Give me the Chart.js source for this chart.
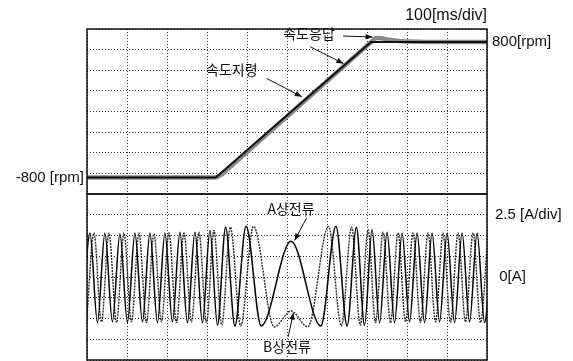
<!DOCTYPE html>
<html><head><meta charset="utf-8">
<script src="https://cdn.jsdelivr.net/npm/chart.js@4"></script>
<style>
html,body{margin:0;padding:0;background:#fff;width:573px;height:361px;overflow:hidden}
#top{position:absolute;left:0;top:0}
#bot{position:absolute;left:0;top:190px}
</style></head><body>
<canvas id="top" width="573" height="196"></canvas>
<canvas id="bot" width="573" height="171"></canvas>
<script>
// ---- time axis (ms), 100 ms/div ----
const timeGrid = [0, 100, 200, 300, 400, 500, 600, 700, 800, 900, 1000];

// ---- speed panel (rpm) ----
const speedMin = -995, speedMax = 953;          // panel edges
const cmdTime = [0, 322, 710, 1000];            // speed command (속도지령)
const cmdRpm  = [-800, -800, 800, 800];
const respTime = [0, 314, 322, 330, 340, 352, 705, 712, 722, 735, 755, 780, 810, 850, 1000]; // speed response (속도응답)
const respRpm  = [-800, -800, -797, -782, -752, -702, 778, 805, 845, 843, 826, 812, 804, 800, 800];
const speedLeftTick = [-800], speedLeftLabel = ['-800 [rpm]'];
const speedRightTick = [800], speedRightLabel = ['800[rpm]'];

// ---- current panel (A), 2.5 A/div ----
const currentGrid = [-10, -7.5, -5, -2.5, 0, 2.5, 5, 7.5, 10];
const iaTime = [-11.4, 7.3, 26.1, 44.8, 63.6, 82.3, 101.1, 119.8, 138.6, 157.3, 176.1, 194.8, 213.6, 232.3, 251.1, 269.8, 288.6, 307.3, 326.1, 346.5, 369.7, 397.6, 435.4, 510, 584.6, 622.4, 650.3, 673.5, 693.9, 712.7, 731.4, 750.2, 768.9, 787.7, 806.4, 825.2, 843.9, 862.7, 881.4, 900.2, 918.9, 937.7, 956.4, 975.2, 993.9, 1012.7];
const iaAmp  = [-5.4, 5.3, -5.5, 5.3, -5.4, 5.2, -5.5, 5.3, -5.4, 5.3, -5.5, 5.3, -5.4, 5.4, -5.5, 5.4, -5.5, 5.6, -5.8, 6.0, -5.9, 6.1, -5.9, 4.3, -5.9, 6.1, -5.9, 6.0, -5.8, 5.7, -5.5, 5.4, -5.5, 5.3, -5.4, 5.3, -5.5, 5.3, -5.4, 5.3, -5.5, 5.3, -5.4, 5.3, -5.5, 5.3];
const ibTime = [-1.3, 17.4, 36.2, 54.9, 73.7, 92.4, 111.2, 129.9, 148.7, 167.4, 186.2, 204.9, 223.7, 242.4, 261.2, 279.9, 298.7, 317.4, 336.8, 358.5, 384.0, 416.1, 468.0, 510, 552.0, 603.9, 636.0, 661.5, 683.2, 702.6, 721.3, 740.1, 758.8, 777.6, 796.3, 815.1, 833.8, 852.6, 871.3, 890.1, 908.8, 927.6, 946.3, 965.1, 983.8, 1002.6];
const ibAmp  = [-5.5, 5.3, -5.4, 5.3, -5.5, 5.3, -5.4, 5.3, -5.5, 5.2, -5.4, 5.3, -5.5, 5.3, -5.4, 5.4, -5.5, 5.6, -5.8, 6.0, -5.9, 6.1, -6.0, -4.1, -6.0, 6.1, -5.9, 6.0, -5.8, 5.7, -5.5, 5.4, -5.5, 5.3, -5.4, 5.3, -5.5, 5.3, -5.4, 5.3, -5.5, 5.3, -5.4, 5.3, -5.5, 5.3];
const currentRightTick = [7.5, 0], currentRightLabel = ['2.5 [A/div]', ' 0[A]'];

// ---- annotations (data units) ----
const speedNotes = [{text: '속도응답', t: 555, v: 894}, {text: '속도지령', t: 362, v: 468}];
const speedArrows = [[640, 870, 714, 858], [558, 744, 641, 545], [449, 370, 537, 153]];
const currentNotes = [{text: 'A상전류', t: 510, v: 8.2}, {text: 'B상전류', t: 500, v: -8.4}];
const currentArrows = [[549, 7.1, 519, 4.4], [503, -7.2, 516, -4.3]];

const numFont = {family: '"Liberation Sans", Arial, sans-serif', size: 15};
const gridColor = '#333', gridDash = [1, 2];
const fixW = w => s => { s.width = w; s.paddingTop = 0; s.paddingBottom = 0; };
const fixH = h => s => { s.height = h; s.paddingLeft = 0; s.paddingRight = 0; };
const pts = (xs, ys) => xs.map((x, i) => ({x, y: ys[i]}));

const framePlugin = {
  id: 'frame',
  afterDatasetsDraw(chart) {
    const {ctx, chartArea: a} = chart;
    ctx.save(); ctx.strokeStyle = '#111'; ctx.lineWidth = 1.5;
    ctx.strokeRect(a.left, a.top, a.right - a.left, a.bottom - a.top);
    ctx.restore();
  }
};
function notesPlugin(notes, arrows, yId) {
  return { id: 'notes', afterDraw(chart) {
    const xs = chart.scales.x, ys = chart.scales[yId], ctx = chart.ctx;
    ctx.save();
    ctx.fillStyle = '#111'; ctx.strokeStyle = '#111'; ctx.lineWidth = 1;
    ctx.font = '14px "Noto Sans CJK KR", sans-serif';
    ctx.textAlign = 'center'; ctx.textBaseline = 'middle';
    notes.forEach(n => ctx.fillText(n.text, xs.getPixelForValue(n.t), ys.getPixelForValue(n.v)));
    arrows.forEach(([t0, v0, t1, v1]) => {
      const x0 = xs.getPixelForValue(t0), y0 = ys.getPixelForValue(v0);
      const x1 = xs.getPixelForValue(t1), y1 = ys.getPixelForValue(v1);
      ctx.beginPath(); ctx.moveTo(x0, y0); ctx.lineTo(x1, y1); ctx.stroke();
      const a = Math.atan2(y1 - y0, x1 - x0), L = 7, W = 2.8;
      ctx.beginPath(); ctx.moveTo(x1, y1);
      ctx.lineTo(x1 - L * Math.cos(a) + W * Math.sin(a), y1 - L * Math.sin(a) - W * Math.cos(a));
      ctx.lineTo(x1 - L * Math.cos(a) - W * Math.sin(a), y1 - L * Math.sin(a) + W * Math.cos(a));
      ctx.closePath(); ctx.fill();
    });
    ctx.restore();
  }};
}
const xGrid = h => ({
  type: 'linear', position: 'bottom', min: timeGrid[0], max: timeGrid[timeGrid.length - 1],
  afterBuildTicks: s => { s.ticks = timeGrid.map(v => ({value: v})); },
  ticks: {display: false}, grid: {color: gridColor, drawTicks: false, lineWidth: 1},
  border: {display: false, dash: gridDash}, afterFit: fixH(h)
});

// ---- top chart: speed ----
const speedGrid = Array.from({length: 9}, (_, i) => speedMin + i * (speedMax - speedMin) / 8);
new Chart(document.getElementById('top'), {
  type: 'line',
  data: { datasets: [
    {label: '속도지령', data: pts(cmdTime, cmdRpm), borderColor: '#111', borderWidth: 2, pointRadius: 0, tension: 0, xAxisID: 'x', yAxisID: 'y'},
    {label: '속도응답', data: pts(respTime, respRpm), borderColor: '#8a8a8a', borderWidth: 4.5, pointRadius: 0, tension: 0.3, xAxisID: 'x', yAxisID: 'y'}
  ]},
  options: {
    responsive: false, animation: false, devicePixelRatio: 1,
    layout: {padding: 0, autoPadding: false},
    plugins: {legend: {display: false}, tooltip: {enabled: false}},
    scales: {
      x: xGrid(2),
      xTop: { type: 'linear', position: 'top', min: 0, max: 1000,
        ticks: {display: false}, grid: {display: false, drawTicks: false}, border: {display: false},
        title: {display: true, text: '100[ms/div]', align: 'end', color: '#111',
          font: {family: numFont.family, size: 16}, padding: {top: 6, bottom: 0}},
        afterFit: fixH(29) },
      y: { type: 'linear', position: 'left', min: speedMin, max: speedMax,
        afterBuildTicks: s => { s.ticks = speedGrid.concat(speedLeftTick).sort((a, b) => a - b).map(v => ({value: v})); },
        ticks: { autoSkip: false, padding: 3, color: '#111', font: numFont,
          callback: v => { const i = speedLeftTick.indexOf(v); return i >= 0 ? speedLeftLabel[i] : ''; } },
        grid: { drawTicks: false, color: c => speedLeftTick.includes(c.tick && c.tick.value) ? 'rgba(0,0,0,0)' : gridColor },
        border: {display: false, dash: gridDash}, afterFit: fixW(87) },
      yR: { type: 'linear', position: 'right', min: speedMin, max: speedMax,
        afterBuildTicks: s => { s.ticks = speedRightTick.map(v => ({value: v})); },
        ticks: { autoSkip: false, padding: 5, color: '#111', font: numFont,
          callback: v => speedRightLabel[speedRightTick.indexOf(v)] || '' },
        grid: {display: false, drawTicks: false}, border: {display: false}, afterFit: fixW(86) }
    }
  },
  plugins: [framePlugin, notesPlugin(speedNotes, speedArrows, 'y')]
});

// ---- bottom chart: phase currents ----
new Chart(document.getElementById('bot'), {
  type: 'line',
  data: { datasets: [
    {label: 'A상전류', data: pts(iaTime, iaAmp), borderColor: '#000', borderWidth: 1.5, pointRadius: 0, cubicInterpolationMode: 'monotone', xAxisID: 'x', yAxisID: 'y'},
    {label: 'B상전류', data: pts(ibTime, ibAmp), borderColor: '#2a2a2a', borderWidth: 1.4, borderDash: [2, 1], pointRadius: 0, cubicInterpolationMode: 'monotone', xAxisID: 'x', yAxisID: 'y'}
  ]},
  options: {
    responsive: false, animation: false, devicePixelRatio: 1,
    layout: {padding: {top: 4, left: 0, right: 0, bottom: 0}, autoPadding: false},
    plugins: {legend: {display: false}, tooltip: {enabled: false}},
    scales: {
      x: xGrid(1),
      y: { type: 'linear', position: 'left', min: currentGrid[0], max: currentGrid[currentGrid.length - 1],
        afterBuildTicks: s => { s.ticks = currentGrid.map(v => ({value: v})); },
        ticks: {display: false}, grid: {drawTicks: false, color: gridColor},
        border: {display: false, dash: gridDash}, afterFit: fixW(87) },
      yR: { type: 'linear', position: 'right', min: currentGrid[0], max: currentGrid[currentGrid.length - 1],
        afterBuildTicks: s => { s.ticks = currentRightTick.slice().sort((a, b) => a - b).map(v => ({value: v})); },
        ticks: { autoSkip: false, padding: 8, color: '#111', font: numFont,
          callback: v => currentRightLabel[currentRightTick.indexOf(v)] || '' },
        grid: {display: false, drawTicks: false}, border: {display: false}, afterFit: fixW(86) }
    }
  },
  plugins: [framePlugin, notesPlugin(currentNotes, currentArrows, 'y')]
});
</script>
</body></html>
